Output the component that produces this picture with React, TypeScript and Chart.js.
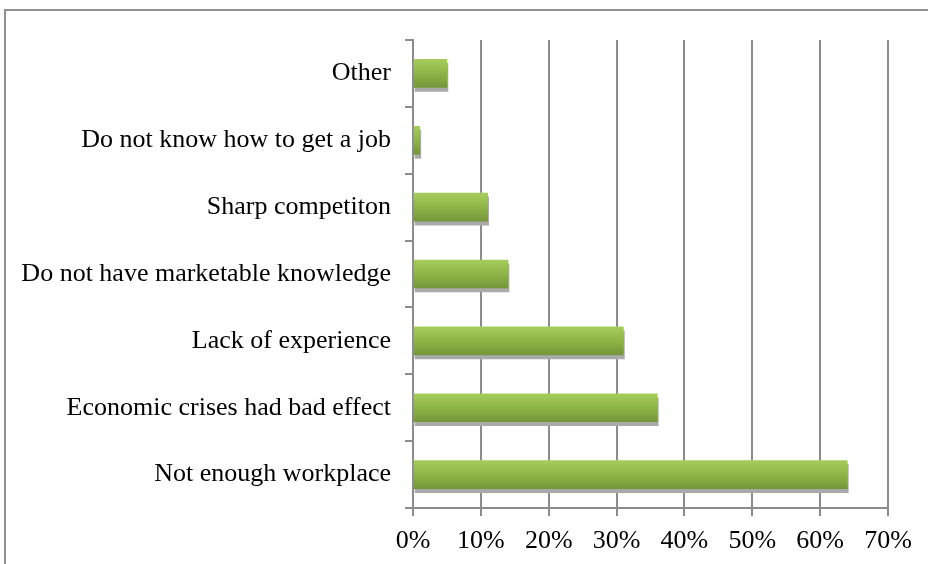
import React, { useEffect, useRef } from "react";
import { Chart, registerables } from "chart.js";

Chart.register(...registerables);

const categories = [
  "Other",
  "Do not know how to get a job",
  "Sharp competiton",
  "Do not have marketable knowledge",
  "Lack of experience",
  "Economic crises had bad effect",
  "Not enough workplace",
];
const values = [5, 1, 11, 14, 31, 36, 64];
const xTicks = [0, 10, 20, 30, 40, 50, 60, 70];

const GRID = "#8c8c8c";
const FONT = { family: "'Liberation Serif', 'Times New Roman', serif", size: 26 };

const shadowPlugin = {
  id: "barShadow",
  beforeDatasetDraw(chart: any) {
    const c = chart.ctx;
    c.save();
    c.shadowColor = "#a9a9a9";
    c.shadowOffsetX = 1;
    c.shadowOffsetY = 4;
    c.shadowBlur = 0;
  },
  afterDatasetDraw(chart: any) {
    chart.ctx.restore();
  },
};

export default function App() {
  const ref = useRef<HTMLCanvasElement | null>(null);
  useEffect(() => {
    if (!ref.current) return;
    const chart = new Chart(ref.current, {
      type: "bar",
      data: {
        labels: categories,
        datasets: [
          {
            data: values,
            barThickness: 28,
            borderWidth: 0,
            backgroundColor: (ctx: any) => {
              const ch = ctx.chart;
              if (!ch.chartArea || ctx.type !== "data" || !ch.scales.y) return "#8cb443";
              const y = ch.scales.y.getPixelForValue(ctx.dataIndex);
              const g = ch.ctx.createLinearGradient(0, y - 14, 0, y + 14);
              g.addColorStop(0, "#a6cc5e");
              g.addColorStop(0.5, "#8db545");
              g.addColorStop(1, "#75963a");
              return g;
            },
          },
        ],
      },
      options: {
        indexAxis: "y",
        animation: false,
        responsive: true,
        maintainAspectRatio: false,
        layout: { padding: { top: 40, right: 40, bottom: 0, left: 0 } },
        plugins: { legend: { display: false }, tooltip: { enabled: false } },
        scales: {
          x: {
            type: "linear",
            min: 0,
            max: 70,
            afterFit: (s: any) => {
              s.height = 56;
            },
            afterBuildTicks: (s: any) => {
              s.ticks = xTicks.map((v) => ({ value: v }));
            },
            ticks: {
              color: "#000",
              font: FONT,
              padding: 10,
              maxRotation: 0,
              callback: (v: any) => v + "%",
            },
            grid: { color: GRID, lineWidth: 2, tickLength: 8, drawTicks: true },
            border: { display: true, color: GRID, width: 2 },
          },
          y: {
            type: "category",
            offset: true,
            afterFit: (s: any) => {
              s.width = 413;
            },
            ticks: { color: "#000", font: FONT, padding: 14 },
            grid: {
              offset: true,
              drawOnChartArea: false,
              drawTicks: true,
              tickLength: 8,
              color: GRID,
              lineWidth: 2,
            },
            border: { display: true, color: GRID, width: 2 },
          },
        },
      },
      plugins: [shadowPlugin],
    } as any);
    return () => chart.destroy();
  }, []);

  return (
    <div
      style={{
        position: "fixed",
        left: 0,
        top: 0,
        width: 928,
        height: 564,
        overflow: "hidden",
        background: "#fff",
      }}
    >
      <div
        style={{
          position: "absolute",
          left: 4,
          top: 9,
          width: 1000,
          height: 1000,
          border: "2px solid #8f8f8f",
        }}
      />
      <div style={{ position: "absolute", left: 0, top: 0, width: 928, height: 564 }}>
        <canvas ref={ref} />
      </div>
    </div>
  );
}
